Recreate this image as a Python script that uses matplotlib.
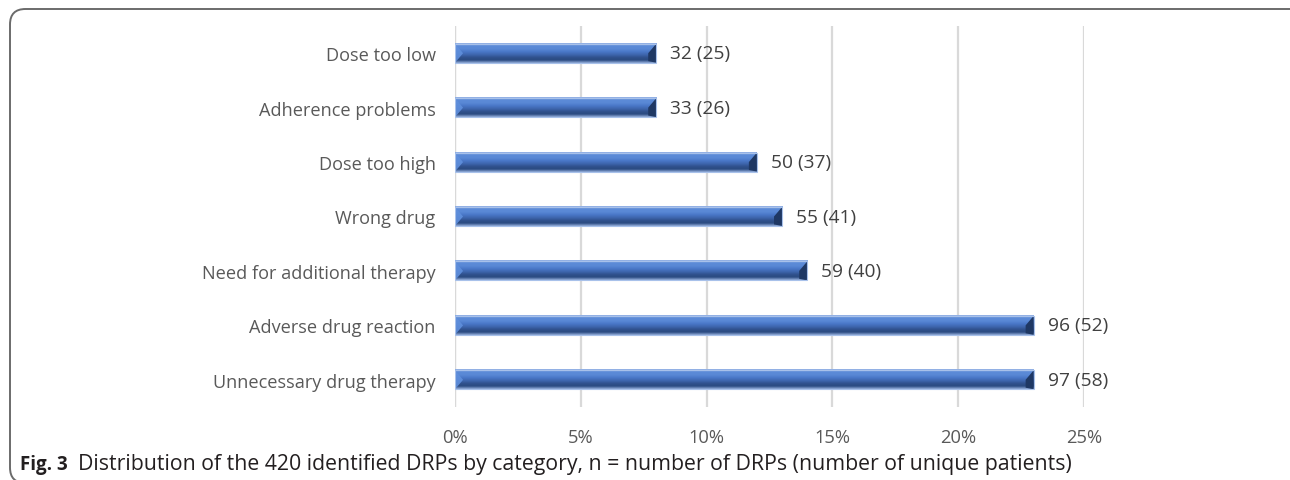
import numpy as np
import matplotlib.pyplot as plt
from matplotlib.patches import Polygon, FancyBboxPatch
from matplotlib.colors import LinearSegmentedColormap

# DRP categories, top to bottom as shown
categories = ['Dose too low', 'Adherence problems', 'Dose too high', 'Wrong drug',
              'Need for additional therapy', 'Adverse drug reaction', 'Unnecessary drug therapy']
n_drps = [32, 33, 50, 55, 59, 96, 97]
n_patients = [25, 26, 37, 41, 40, 52, 58]
pct = [8, 8, 12, 13, 14, 23, 23]   # share of the 420 DRPs, rounded %
xticks = [0, 5, 10, 15, 20, 25]

plt.rcParams['font.family'] = ['Open Sans', 'DejaVu Sans']

fig = plt.figure(figsize=(12.9, 4.81), dpi=100)
ax = fig.add_axes([455 / 1290, 1 - 408 / 481, 629 / 1290, 381 / 481])

# vertical shading for the bevelled bars (top -> bottom)
grad = LinearSegmentedColormap.from_list('bevel', ['#9ab7e6', '#5b8ad8', '#5a89d6', '#4a78c8',
                                                   '#3f68b0', '#31528f', '#2a4a80', '#8fa9d8'])
col = np.linspace(0, 1, 64).reshape(-1, 1)

h = 0.35
bev = 0.32
pos = np.arange(len(categories))
for y, v in zip(pos, pct):
    ax.imshow(col, cmap=grad, aspect='auto', extent=(0, v, y + h / 2, y - h / 2),
              interpolation='bilinear', zorder=3)
    ax.add_patch(Polygon([(0, y - h / 2), (bev, y), (0, y + h / 2)], closed=True,
                         facecolor='#5f8fdc', edgecolor='none', alpha=0.9, zorder=4))
    ax.add_patch(Polygon([(v, y - h / 2), (v, y + h / 2), (v - bev, y + h / 2 - 0.03), (v - bev, y)],
                         closed=True, facecolor='#1f3864', edgecolor='none', zorder=4))
    ax.add_patch(plt.Rectangle((0, y - h / 2), v, h, fill=False, edgecolor='#a8c1ea',
                               lw=0.8, zorder=5))

for y, v, a, b in zip(pos, pct, n_drps, n_patients):
    ax.text(v + 0.55, y, f'{a} ({b})', va='center', ha='left', fontsize=13.8,
            color='#404040', zorder=6)

ax.set_xlim(0, 25)
ax.set_ylim(len(categories) - 0.5, -0.5)
ax.set_xticks(xticks)
ax.set_xticklabels([f'{t}%' for t in xticks])
ax.set_yticks(pos)
ax.set_yticklabels(categories)
ax.tick_params(axis='x', length=0, pad=15, labelsize=13.2, labelcolor='#595959')
ax.tick_params(axis='y', length=0, pad=14, labelsize=13.1, labelcolor='#595959')
ax.grid(axis='x', color='#d9d9d9', lw=1.6, zorder=0)
ax.set_axisbelow(True)
for s in ax.spines.values():
    s.set_visible(False)
ax.axvline(0, color='#d9d9d9', lw=1.6, zorder=1)

# caption
fig.text(20 / 1290, 1 - 465 / 481, 'Fig. 3', fontsize=13.5, fontweight='bold', va='center',
         ha='left', color='#231f20')
fig.text(78 / 1290, 1 - 465 / 481,
         'Distribution of the 420 identified DRPs by category, n = number of DRPs (number of unique patients)',
         fontsize=15.3, va='center', ha='left', color='#231f20')

# outer frame with rounded corners (runs off the right and bottom edges)
frame = FancyBboxPatch((10 / 1290, -3 / 481), 1300 / 1290, 474 / 481,
                       boxstyle='round,pad=0,rounding_size=0.012', transform=fig.transFigure,
                       fill=False, edgecolor='#6b6b6b', lw=1.4, mutation_aspect=2.68)
fig.patches.append(frame)

fig.savefig('out.png', dpi=100)
